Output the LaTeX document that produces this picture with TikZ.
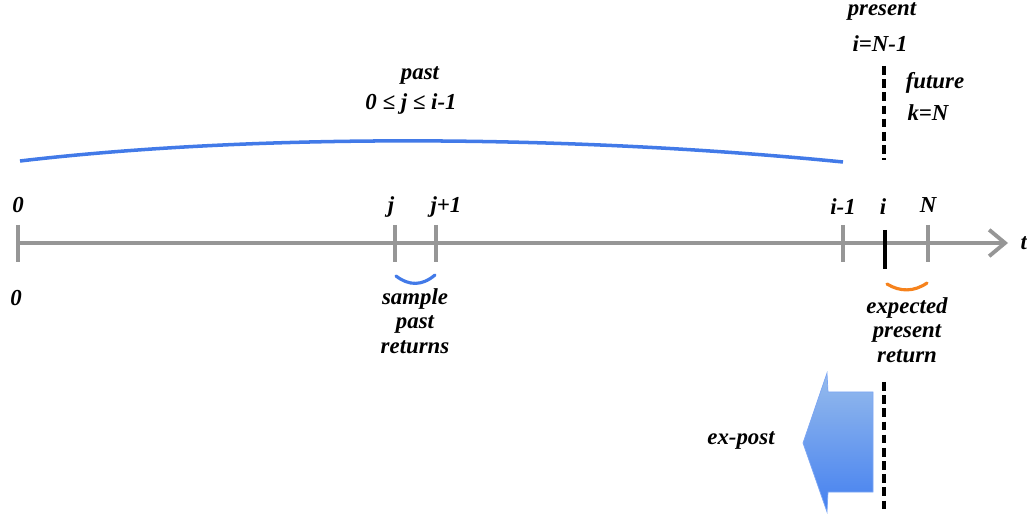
\documentclass[tikz,border=0pt]{standalone}
\usepackage{fontspec}
\setmainfont{Liberation Serif}
\usetikzlibrary{positioning}
\usetikzlibrary{arrows.meta}

\definecolor{axisgray}{RGB}{150,150,150}
\definecolor{pastblue}{RGB}{66,122,232}
\definecolor{retorange}{RGB}{246,130,28}
\definecolor{arrowtop}{RGB}{150,187,236}
\definecolor{arrowbot}{RGB}{68,128,240}

\tikzset{
    lbl/.style={font=\bfseries\itshape\fontsize{13}{15}\selectfont, inner sep=1pt},
    ticmark/.style={axisgray, line width=2.2pt},
    brace/.style={line width=1.8pt, line cap=round},
    nowline/.style={black, line width=1.9pt, dash pattern=on 5pt off 2.5pt}
}

\begin{document}
\begin{tikzpicture}[x=0.02cm, y=-0.02cm]
    \useasboundingbox (0,0) rectangle (1027,516);

    % time axis
    \coordinate (t0) at (18,243);
    \coordinate (tend) at (1008,243);
    \draw[axisgray, line width=2.2pt, -{Straight Barb[length=9pt,width=15pt,line width=2.2pt]}] (t0) -- (tend);
    \node[lbl, right=6pt of tend] (tlab) {t};

    \foreach \x/\n in {18/z, 395/j, 436/jj, 843/im, 928/N}{
        \draw[ticmark] (\x,225) coordinate (top\n) -- (\x,262) coordinate (bot\n);
    }
    \draw[black, line width=2.4pt] (885,230) coordinate (topi) -- (885,269) coordinate (boti);

    \node[lbl] (l0) at (18,205) {0};
    \node[lbl] (lj) at (391,207) {j};
    \node[lbl] (ljj) at (446,207) {j+1};
    \node[lbl] (lim) at (843,207) {i-1};
    \node[lbl] (li) at (883,207) {i};
    \node[lbl] (lN) at (928,205) {N};
    \node[lbl] (z0) at (16,298) {0};

    % returns
    \draw[pastblue, brace] (396,276) .. controls (409,286) and (422,286) .. (435,275);
    \node[lbl, align=center] (sample) at (415,321) {sample\\[-1pt]past\\[-1pt]returns};
    \draw[retorange, brace] (887,284) .. controls (900,292) and (914,292) .. (927,283);
    \node[lbl, align=center] (expect) at (907,330) {expected\\[-1pt]present\\[-1pt]return};

    % past
    \draw[pastblue, line width=2pt] (20,161) .. controls (250,134) and (560,134) .. (843,162);
    \node[lbl] (past) at (420,76) {past};
    \node[lbl] (range) at (411,104) {0 ≤ j ≤ i-1};

    % present / future
    \node[lbl] (present) at (882,12) {present};
    \node[lbl] (ieq) at (880,44) {i=N-1};
    \draw[nowline] (884,66) coordinate (nowtop) -- (884,160) coordinate (nowbot);
    \node[lbl] (future) at (935,83) {future};
    \node[lbl] (keq) at (928,113) {k=N};

    % ex-post
    \draw[nowline] (884,382) coordinate (posttop) -- (884,510) coordinate (postbot);
    \shade[top color=arrowtop, bottom color=arrowbot, draw=arrowbot!70!white, line width=0.4pt]
        (873,392) -- (828,392) -- (827,373) -- (803,443) -- (827,512) -- (828,492) -- (873,492) -- cycle;
    \node[lbl] (expost) at (741,441) {ex-post};
\end{tikzpicture}
\end{document}
